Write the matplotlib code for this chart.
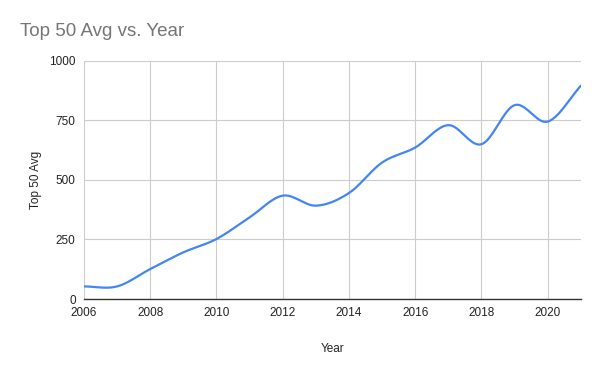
import numpy as np
import matplotlib
matplotlib.use("Agg")
from matplotlib import pyplot as plt

years = [2006, 2007, 2008, 2009, 2010, 2011, 2012, 2013, 2014, 2015, 2016, 2017, 2018, 2019, 2020, 2021]
top50_avg = [53, 53, 126, 196, 252, 343, 434, 392, 445, 573, 636, 730, 650, 814, 745, 895]
x_ticks = [2006, 2008, 2010, 2012, 2014, 2016, 2018, 2020]
y_ticks = [0, 250, 500, 750, 1000]


def smooth_curve(x, y, n=20):
    # catmull-rom style hermite curve, like the sheets "smooth" option
    x = np.asarray(x, dtype=float)
    y = np.asarray(y, dtype=float)
    m = np.gradient(y, x)
    xs, ys = [], []
    for i in range(len(x) - 1):
        h = x[i + 1] - x[i]
        t = np.linspace(0, 1, n, endpoint=False)
        h00 = 2 * t**3 - 3 * t**2 + 1
        h10 = t**3 - 2 * t**2 + t
        h01 = -2 * t**3 + 3 * t**2
        h11 = t**3 - t**2
        xs.append(x[i] + t * h)
        ys.append(h00 * y[i] + h10 * h * m[i] + h01 * y[i + 1] + h11 * h * m[i + 1])
    xs.append([x[-1]])
    ys.append([y[-1]])
    return np.concatenate(xs), np.concatenate(ys)


plt.rcParams['font.family'] = ['Liberation Sans', 'DejaVu Sans']

fig = plt.figure(figsize=(6, 3.71), dpi=100)
ax = fig.add_axes([0.14, 0.194, 0.828, 0.642])

sx, sy = smooth_curve(years, top50_avg)
ax.plot(sx, sy, color='#4285F4', linewidth=1.6, solid_capstyle='round', zorder=3)

ax.set_xlim(2006, 2021)
ax.set_ylim(0, 1000)
ax.set_xticks(x_ticks)
ax.set_yticks(y_ticks)
ax.grid(True, color='#cccccc', linewidth=0.8)
ax.set_axisbelow(True)
for side in ['top', 'right', 'left']:
    ax.spines[side].set_visible(False)
ax.spines['bottom'].set_color('#333333')
ax.spines['bottom'].set_linewidth(1.0)
ax.tick_params(axis='both', length=0, labelsize=8.5, colors='#222222')
ax.tick_params(axis='x', pad=6)
ax.tick_params(axis='y', pad=6)

ax.set_xlabel('Year', fontsize=8.5, color='#222222', labelpad=17)
ax.set_ylabel('Top 50 Avg', fontsize=8.5, color='#222222', labelpad=5)

fig.text(0.033, 0.915, 'Top 50 Avg vs. Year', fontsize=13.5, color='#757575', ha='left', va='center')

plt.savefig('out.png', dpi=100)
plt.close(fig)
